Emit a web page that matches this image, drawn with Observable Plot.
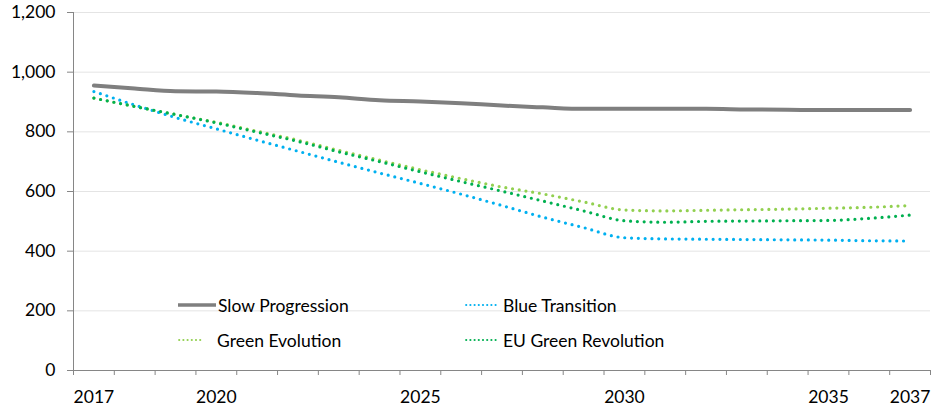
<!DOCTYPE html>
<html>
<head>
<meta charset="utf-8">
<script src="https://cdn.jsdelivr.net/npm/d3@7"></script>
<script src="https://cdn.jsdelivr.net/npm/@observablehq/plot@0.6"></script>
<style>
  html, body { margin: 0; padding: 0; background: #fff; }
  #wrap { position: relative; width: 935px; height: 409px; overflow: hidden; font-family: Lato, "Open Sans", sans-serif; }
  .legend-item { position: absolute; display: flex; align-items: center; font-size: 17.5px; color: #000; white-space: nowrap; }
  .legend-item svg { display: block; }
</style>
</head>
<body>
<div id="wrap"></div>
<script>
// Scenario years (categories on the x axis)
const years = [2017, 2018, 2019, 2020, 2021, 2022, 2023, 2024, 2025, 2026, 2027,
               2028, 2029, 2030, 2031, 2032, 2033, 2034, 2035, 2036, 2037];

// Scenario series, one value per year
const slowProgression = [955, 945, 936, 935, 930, 922, 916, 906, 902, 896, 888,
                         882, 877, 877, 877, 877, 875, 874, 873, 873, 873];
const blueTransition  = [935, 890, 848, 810, 772, 735, 698, 662, 627, 591, 553,
                         514, 479, 445, 441, 440, 439, 438, 437, 435, 434];
const greenEvolution  = [913, 885, 858, 832, 802, 772, 738, 705, 673, 643, 615,
                         592, 565, 538, 535, 537, 539, 541, 544, 547, 553];
const euGreenRevolution = [913, 885, 858, 830, 799, 768, 733, 700, 666, 633, 601,
                           568, 535, 502, 497, 500, 501, 502, 503, 510, 521];

// Axis ticks
const yTicks = [0, 200, 400, 600, 800, 1000, 1200];
const xLabels = [2017, 2020, 2025, 2030, 2035, 2037];

const seriesNames = ["Slow Progression", "Blue Transition", "Green Evolution", "EU Green Revolution"];
const seriesValues = [slowProgression, blueTransition, greenEvolution, euGreenRevolution];
const seriesColors = ["#7f7f7f", "#00b0f0", "#92d050", "#00b050"];

// Long table for Plot
const rows = seriesNames.flatMap((name, i) =>
  years.map((year, j) => ({series: name, year, value: seriesValues[i][j]})));

// Category bands: each year occupies one unit, ticks sit on the band edges
const xDomain = [years[0] - 0.5, years[years.length - 1] + 0.5];
const bandEdges = [...years.map(y => y - 0.5), years[years.length - 1] + 0.5];

const axisColor = "#868686";

const lineMark = (name, i, opts) => Plot.line(rows.filter(d => d.series === name), {
  x: "year", y: "value", stroke: seriesColors[i], curve: "monotone-x", ...opts
});

const chart = Plot.plot({
  width: 935,
  height: 409,
  marginLeft: 73,
  marginRight: 5,
  marginTop: 12,
  marginBottom: 39,
  x: {domain: xDomain},
  y: {domain: [0, 1200]},
  style: {fontFamily: "Lato, 'Open Sans', sans-serif", fontSize: "17.5px", color: "#000", background: "#fff"},
  marks: [
    Plot.gridY(yTicks, {stroke: "#e4e4e4", strokeOpacity: 1, strokeWidth: 1}),
    Plot.axisY(yTicks, {tickSize: 6, tickPadding: 12, stroke: axisColor, tickFormat: d3.format(","), label: null}),
    Plot.axisX(bandEdges, {tickSize: 5, stroke: axisColor, tickFormat: () => "", label: null}),
    Plot.axisX(xLabels, {tickSize: 0, tickPadding: 20, tickFormat: d3.format("d"), label: null}),
    Plot.ruleX([xDomain[0]], {stroke: axisColor, strokeWidth: 1}),
    Plot.ruleY([0], {stroke: axisColor, strokeWidth: 1}),
    lineMark(seriesNames[0], 0, {strokeWidth: 4}),
    lineMark(seriesNames[1], 1, {strokeWidth: 3.2, strokeDasharray: "0 6.8", strokeLinecap: "round"}),
    lineMark(seriesNames[2], 2, {strokeWidth: 3.2, strokeDasharray: "0 6.8", strokeLinecap: "round"}),
    lineMark(seriesNames[3], 3, {strokeWidth: 3.2, strokeDasharray: "0 6.8", strokeLinecap: "round"})
  ]
});

const wrap = document.getElementById("wrap");
wrap.appendChild(chart);

// Legend in two columns inside the plot area: sample length and gap before the label
const legendLayout = [
  {left: 178, top: 305, sample: 38, gap: 2},
  {left: 465, top: 305, sample: 33, gap: 5},
  {left: 178, top: 340, sample: 26, gap: 13},
  {left: 465, top: 340, sample: 33, gap: 5}
];
seriesNames.forEach((name, i) => {
  const L = legendLayout[i];
  const item = document.createElement("div");
  item.className = "legend-item";
  item.style.left = L.left + "px";
  item.style.top = (L.top - 12) + "px";
  item.style.height = "24px";
  const solid = i === 0;
  const sw = solid ? 3.5 : 2.2;
  const dash = solid ? "" : `stroke-dasharray="0 4.2" stroke-linecap="round"`;
  item.innerHTML =
    `<svg width="${L.sample}" height="8" style="margin-right:${L.gap}px"><line x1="${solid ? 0 : 1.2}" y1="4" x2="${L.sample}" y2="4" stroke="${seriesColors[i]}" stroke-width="${sw}" ${dash}/></svg>` +
    `<span>${name}</span>`;
  wrap.appendChild(item);
});
</script>
</body>
</html>
